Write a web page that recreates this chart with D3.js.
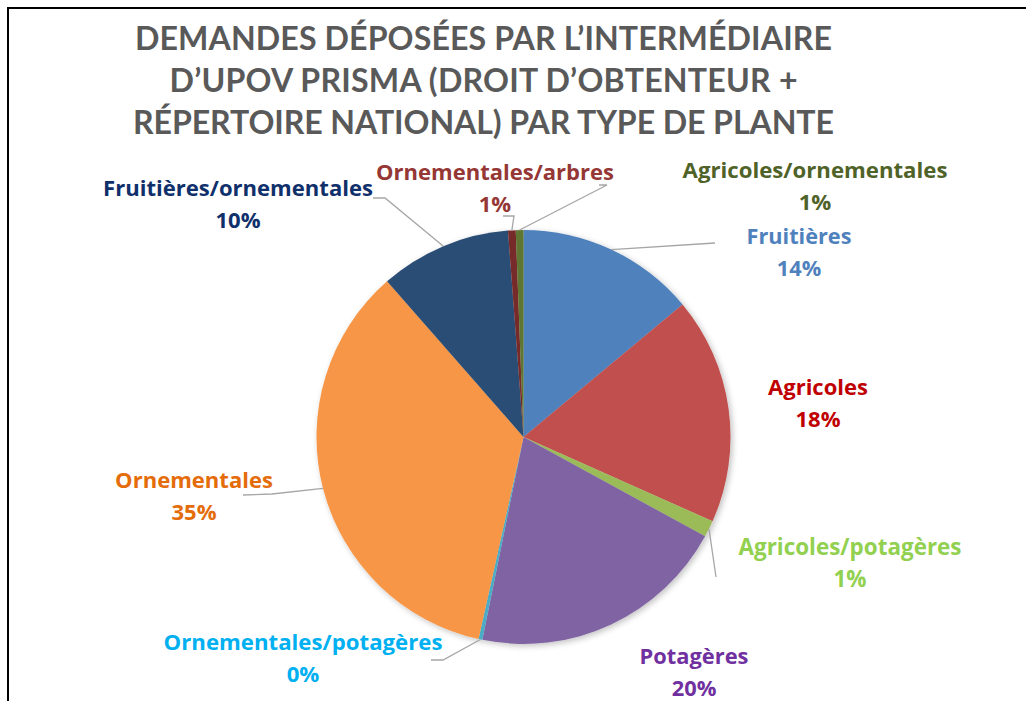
<!DOCTYPE html>
<html>
<head>
<meta charset="utf-8">
<script src="https://cdn.jsdelivr.net/npm/d3@7"></script>
<style>
  html, body { margin: 0; padding: 0; background: #fff; }
  svg { display: block; }
  text { font-family: Lato, "Open Sans", "Liberation Sans", sans-serif; font-weight: bold; }
  .lbl { font-family: "Open Sans", Lato, sans-serif; font-weight: bold; }
</style>
</head>
<body>
<svg id="chart" width="1026" height="701"></svg>
<script>
// ---- Data ----
const categories = [
  "Fruitières", "Agricoles", "Agricoles/potagères", "Potagères",
  "Ornementales/potagères", "Ornementales", "Fruitières/ornementales",
  "Ornementales/arbres", "Agricoles/ornementales"
];
const values = [14.0, 17.8, 1.3, 20.3, 0.3, 35.2, 10.3, 0.6, 0.6];
const titleLines = [
  "DEMANDES DÉPOSÉES PAR L’INTERMÉDIAIRE",
  "D’UPOV PRISMA (DROIT D’OBTENTEUR +",
  "RÉPERTOIRE NATIONAL) PAR TYPE DE PLANTE"
];

// ---- Styles ----
const sliceColors = ["#4f81bd", "#c0504d", "#9bbb59", "#8064a2", "#4bacc6",
                     "#f79646", "#2c4d75", "#772c2a", "#5f7530"];
const labelColors = ["#4f81bd", "#c00000", "#92d050", "#7030a0", "#00b0f0",
                     "#e46c0a", "#10306b", "#953735", "#4f6228"];
// label layout: center x, first baseline y, target text width, leader line points
const labelLayout = [
  { x: 799, y: 244, w: 105, lead: [[715, 243]] },
  { x: 818, y: 395, w: 100, lead: null },
  { x: 850, y: 555, w: 223, lead: [[716, 577]] },
  { x: 694, y: 664, w: 109, lead: null },
  { x: 303, y: 650, w: 279, lead: [[431, 660], [443, 660]] },
  { x: 194, y: 488, w: 158, lead: [[243, 495], [272, 494]] },
  { x: 238, y: 196, w: 270, lead: [[373, 198], [385, 198]] },
  { x: 495, y: 180, w: 238, lead: [[503, 216], [514, 216]] },
  { x: 815, y: 178, w: 265, lead: [[599, 185], [607, 185]] }
];

const svg = d3.select("#chart");
const W = 1026, H = 701;
const cx = 523.5, cy = 437, R = 207;

// frame
svg.append("path")
  .attr("d", `M8,${H + 2} L8,8 L${W + 2},8`)
  .attr("fill", "none").attr("stroke", "#000").attr("stroke-width", 2);

// title
const title = svg.append("g");
const titleWidths = [697, 628, 701];
const tEls = titleLines.map((t, i) => title.append("text")
    .attr("x", 483.5).attr("y", 50 + i * 42)
    .attr("text-anchor", "middle")
    .attr("fill", "#595959")
    .attr("font-size", 30)
    .text(t));
const fitSizes = tEls.map((el, i) => 30 * titleWidths[i] / el.node().getComputedTextLength());
const tSize = (fitSizes[0] + fitSizes[2]) / 2;
tEls.forEach((el, i) => {
  el.attr("font-size", tSize)
    .attr("textLength", titleWidths[i])
    .attr("lengthAdjust", "spacing");
});

// shadow filter
const defs = svg.append("defs");
const f = defs.append("filter").attr("id", "sh").attr("x", "-20%").attr("y", "-20%").attr("width", "140%").attr("height", "140%");
f.append("feGaussianBlur").attr("in", "SourceAlpha").attr("stdDeviation", 3);
f.append("feOffset").attr("dx", 2).attr("dy", 2).attr("result", "b");
f.append("feComponentTransfer").append("feFuncA").attr("type", "linear").attr("slope", 0.25);
const m = f.append("feMerge");
m.append("feMergeNode");
m.append("feMergeNode").attr("in", "SourceGraphic");

const pie = d3.pie().sort(null).value(d => d)(values);
const arc = d3.arc().innerRadius(0).outerRadius(R);

const g = svg.append("g").attr("transform", `translate(${cx},${cy})`);
g.append("g").attr("filter", "url(#sh)")
  .selectAll("path").data(pie).join("path")
  .attr("d", arc)
  .attr("fill", (d, i) => sliceColors[i]);

// leader lines
const total = d3.sum(values);
const lines = svg.append("g");
pie.forEach((d, i) => {
  const L = labelLayout[i];
  if (!L.lead) return;
  const a = (d.startAngle + d.endAngle) / 2;
  const px = cx + R * Math.sin(a), py = cy - R * Math.cos(a);
  const pts = L.lead.concat([[px, py]]);
  lines.append("path")
    .attr("d", d3.line()(pts))
    .attr("fill", "none").attr("stroke", "#a6a6a6").attr("stroke-width", 1.3);
});

// labels
const labels = svg.append("g");
pie.forEach((d, i) => {
  const L = labelLayout[i];
  const pct = Math.round(values[i] / total * 100) + "%";
  const t = labels.append("text")
    .attr("class", "lbl")
    .attr("text-anchor", "middle")
    .attr("fill", labelColors[i])
    .attr("font-size", 21);
  const s1 = t.append("tspan").attr("x", L.x).attr("y", L.y).text(categories[i]);
  t.append("tspan").attr("x", L.x).attr("y", L.y + 32).text(pct);
  const w = s1.node().getComputedTextLength();
  t.attr("font-size", Math.min(23, 21 * L.w / w));
});
</script>
</body>
</html>
